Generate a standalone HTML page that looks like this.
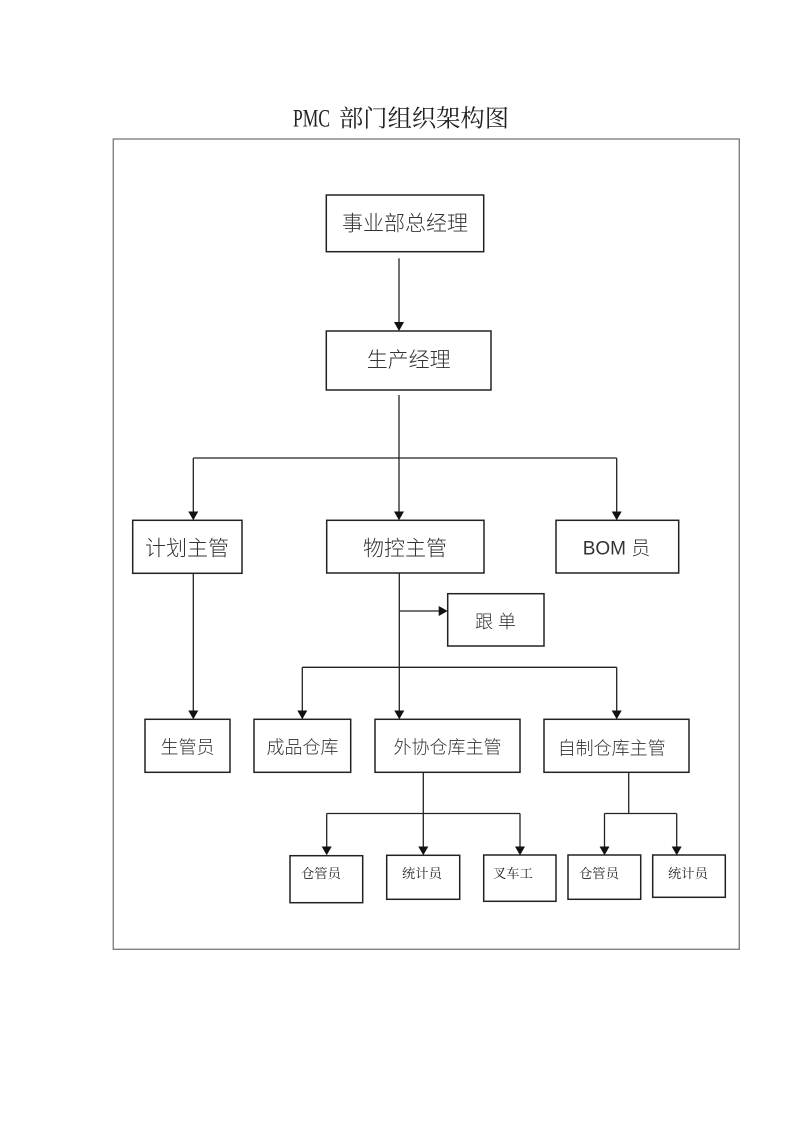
<!DOCTYPE html>
<html>
<head>
<meta charset="utf-8">
<style>
html,body{margin:0;padding:0;background:#fff;}
svg{display:block;}
.sans{font-family:"Liberation Sans","Noto Sans CJK SC",sans-serif;fill:#333;font-weight:300;}
.serif{font-family:"Liberation Serif","Noto Serif CJK SC",serif;fill:#222;}
</style>
</head>
<body>
<svg width="800" height="1131" viewBox="0 0 800 1131" xmlns="http://www.w3.org/2000/svg">
  <rect x="0" y="0" width="800" height="1131" fill="#fff"/>
  <!-- Title -->
  <text class="serif" x="293" y="126.5" font-size="25" textLength="37" lengthAdjust="spacingAndGlyphs">PMC</text>
  <text class="serif" x="339" y="126.5" font-size="24" textLength="170" lengthAdjust="spacingAndGlyphs">部门组织架构图</text>

  <!-- Outer frame -->
  <rect x="113.3" y="139" width="626" height="810.3" fill="none" stroke="#808080" stroke-width="1.4"/>

  <!-- Boxes -->
  <g fill="none" stroke="#222" stroke-width="1.5">
    <rect x="326.3" y="195" width="157.4" height="56.7"/>
    <rect x="326.3" y="331" width="164.7" height="59"/>
    <rect x="132.7" y="520.3" width="109.3" height="53"/>
    <rect x="326.7" y="520.3" width="157.3" height="52.7"/>
    <rect x="556" y="520.3" width="122.7" height="52.7"/>
    <rect x="447.7" y="593.7" width="96.3" height="52.3"/>
    <rect x="145" y="719.3" width="85" height="53"/>
    <rect x="254" y="719.3" width="96.7" height="53"/>
    <rect x="375" y="719.3" width="145" height="53"/>
    <rect x="544" y="719.3" width="145" height="53"/>
    <rect x="290" y="855.7" width="72.7" height="47"/>
    <rect x="386.7" y="855.3" width="73" height="44"/>
    <rect x="483.7" y="855" width="72.3" height="46.3"/>
    <rect x="568" y="855" width="72.7" height="44.3"/>
    <rect x="652.7" y="855" width="72.6" height="42.3"/>
  </g>

  <!-- Connector lines -->
  <g fill="none" stroke="#222" stroke-width="1.3">
    <line x1="399" y1="258.3" x2="399" y2="324"/>
    <line x1="399" y1="395" x2="399" y2="513"/>
    <line x1="193.3" y1="458" x2="616.7" y2="458"/>
    <line x1="193.3" y1="458" x2="193.3" y2="513"/>
    <line x1="616.7" y1="458" x2="616.7" y2="513"/>
    <line x1="193.3" y1="573.3" x2="193.3" y2="712"/>
    <line x1="399.3" y1="573" x2="399.3" y2="712"/>
    <line x1="399.3" y1="611" x2="440" y2="611"/>
    <line x1="302.3" y1="667.3" x2="616.7" y2="667.3"/>
    <line x1="302.3" y1="667.3" x2="302.3" y2="712"/>
    <line x1="616.7" y1="667.3" x2="616.7" y2="712"/>
    <line x1="423.3" y1="772.3" x2="423.3" y2="848"/>
    <line x1="326.7" y1="813.5" x2="520" y2="813.5"/>
    <line x1="326.7" y1="813.5" x2="326.7" y2="848"/>
    <line x1="520" y1="813.5" x2="520" y2="848"/>
    <line x1="628.7" y1="772.3" x2="628.7" y2="813.5"/>
    <line x1="604.5" y1="813.5" x2="676.7" y2="813.5"/>
    <line x1="604.5" y1="813.5" x2="604.5" y2="848"/>
    <line x1="676.7" y1="813.5" x2="676.7" y2="848"/>
  </g>

  <!-- Arrowheads -->
  <g fill="#111" stroke="none">
    <polygon points="394,322 404,322 399,331"/>
    <polygon points="188.3,511.5 198.3,511.5 193.3,520.3"/>
    <polygon points="394,511.5 404,511.5 399,520.3"/>
    <polygon points="611.7,511.5 621.7,511.5 616.7,520.3"/>
    <polygon points="188.3,710.5 198.3,710.5 193.3,719.3"/>
    <polygon points="394.3,710.5 404.3,710.5 399.3,719.3"/>
    <polygon points="297.3,710.5 307.3,710.5 302.3,719.3"/>
    <polygon points="611.7,710.5 621.7,710.5 616.7,719.3"/>
    <polygon points="438.7,606 438.7,616 447.7,611"/>
    <polygon points="321.7,846.5 331.7,846.5 326.7,855.3"/>
    <polygon points="418.3,846.5 428.3,846.5 423.3,855.3"/>
    <polygon points="515,846.5 525,846.5 520,855.3"/>
    <polygon points="599.5,846.5 609.5,846.5 604.5,855.3"/>
    <polygon points="671.7,846.5 681.7,846.5 676.7,855.3"/>
  </g>

  <!-- Labels -->
  <g class="sans" text-anchor="middle">
    <text x="405" y="230.3" font-size="21">事业部总经理</text>
    <text x="408.7" y="367" font-size="21">生产经理</text>
    <text x="187" y="555.5" font-size="21">计划主管</text>
    <text x="405" y="555.5" font-size="21">物控主管</text>
    <text x="616.5" y="554.5" font-size="19">BOM 员</text>
    <text x="495.5" y="628" font-size="18">跟 单</text>
    <text x="187.5" y="753.5" font-size="18">生管员</text>
    <text x="302.5" y="753.5" font-size="18">成品仓库</text>
    <text x="447.5" y="753.5" font-size="18">外协仓库主管</text>
    <text x="611.7" y="754.5" font-size="18">自制仓库主管</text>
  </g>
  <g class="serif" font-size="13.3">
    <text x="301" y="877.8">仓管员</text>
    <text x="402" y="877.8">统计员</text>
    <text x="493" y="877.8">叉车工</text>
    <text x="579" y="877.8">仓管员</text>
    <text x="668" y="877.8">统计员</text>
  </g>
</svg>
</body>
</html>
